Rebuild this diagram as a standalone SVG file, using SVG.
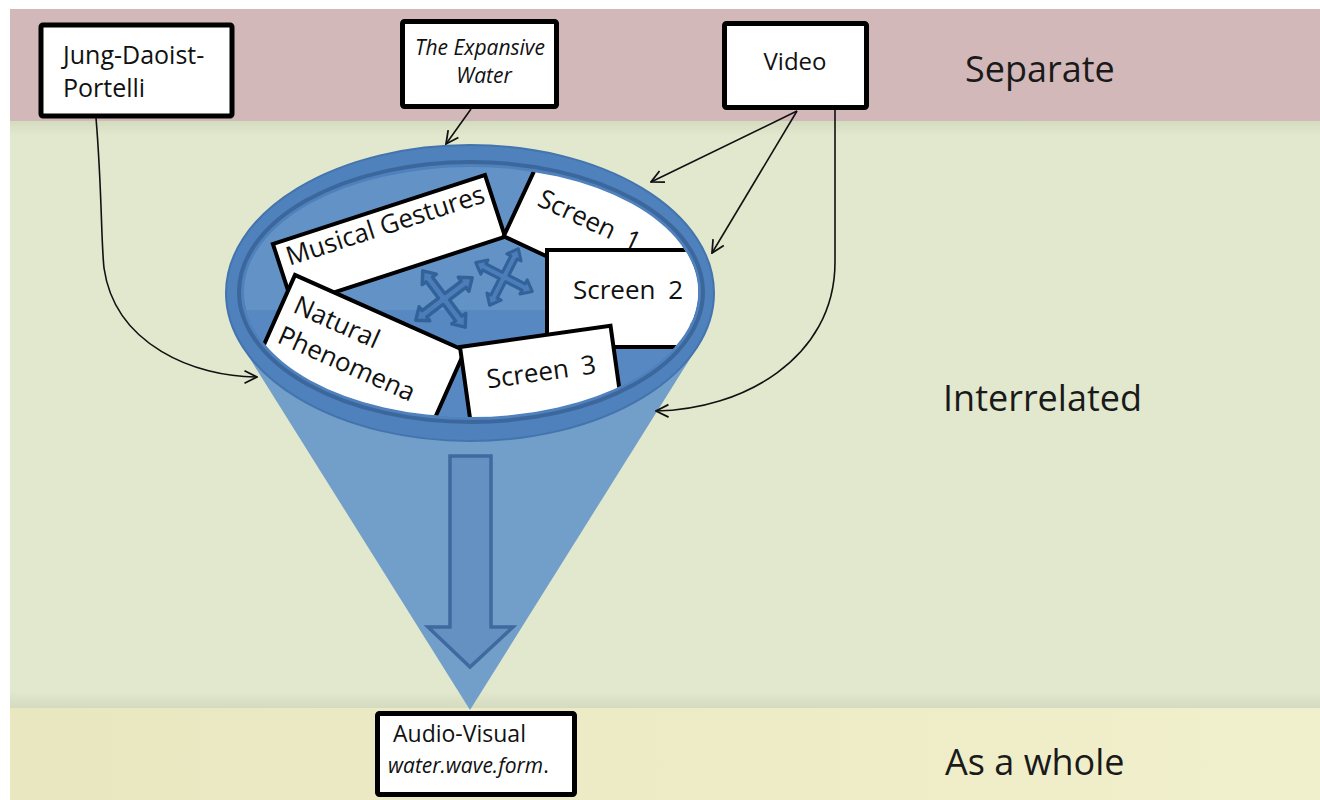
<svg xmlns="http://www.w3.org/2000/svg" width="1320" height="800" viewBox="0 0 1320 800">
  <style>
    .box { fill: #ffffff; stroke: #000000; stroke-width: 5; }
    .inbox { fill: #ffffff; stroke: #000000; stroke-width: 4; }
    .lbl { font-family: "Open Sans", "Liberation Sans", sans-serif; fill: #111111; }
    .it { font-style: italic; }
    .band { font-family: "Open Sans", "Liberation Sans", sans-serif; font-size: 36px; fill: #1a1a1a; }
    .conn { fill: none; stroke: #111111; stroke-width: 1.6; }
    .move { fill: #4b7db8; stroke: #33629a; stroke-width: 3.5; stroke-linejoin: round; }
  </style>
  <defs>
    <marker id="open" viewBox="0 0 12 12" refX="11" refY="6" markerWidth="15" markerHeight="15" markerUnits="userSpaceOnUse" orient="auto">
      <path d="M1,1 L11,6 L1,11" fill="none" stroke="#111111" stroke-width="1.4"/>
    </marker>
    <linearGradient id="greenBand" x1="0" y1="0" x2="0" y2="1">
      <stop offset="0" stop-color="#d4dcc0"/>
      <stop offset="0.025" stop-color="#e1e8cd"/>
      <stop offset="0.97" stop-color="#e1e8cd"/>
      <stop offset="1" stop-color="#d3dabf"/>
    </linearGradient>
    <linearGradient id="yellowBand" x1="0" y1="0" x2="1" y2="0">
      <stop offset="0" stop-color="#e9e7c0"/>
      <stop offset="1" stop-color="#f1f0cc"/>
    </linearGradient>
    <clipPath id="bowl">
      <ellipse cx="471" cy="292" rx="227" ry="125"/>
    </clipPath>
    <!-- four-way arrow glyph -->
    <path id="moveIcon" d="M4,-4 L25,-4 L25,-9 L36,0 L25,9 L25,4 L4,4 L4,25 L9,25 L0,36 L-9,25 L-4,25 L-4,4 L-25,4 L-25,9 L-36,0 L-25,-9 L-25,-4 L-4,-4 L-4,-25 L-9,-25 L0,-36 L9,-25 L4,-25 Z"/>
  </defs>

  <!-- background bands -->
  <rect x="0" y="0" width="1320" height="800" fill="#ffffff"/>
  <rect x="10" y="9" width="1310" height="113" fill="#d2b8b9"/>
  <rect x="10" y="121" width="1310" height="588" fill="url(#greenBand)"/>
  <rect x="10" y="708" width="1310" height="92" fill="url(#yellowBand)"/>

  <text class="band" x="965" y="82">Separate</text>
  <text class="band" x="943" y="411">Interrelated</text>
  <text class="band" x="945" y="775">As a whole</text>

  <!-- funnel -->
  <g id="funnel">
    <polygon points="242,346 698,346 470,710" fill="#729fca"/>
    <path d="M450,456 L491,456 L491,627 L513,627 L470,667 L428,627 L450,627 Z" fill="#6590c2" stroke="#3e6a9f" stroke-width="3.5" stroke-linejoin="miter"/>
    <ellipse cx="470" cy="293" rx="244" ry="148" fill="#4f81bd" stroke="#4474ad" stroke-width="2"/>
    <g clip-path="url(#bowl)">
      <rect x="230" y="160" width="480" height="270" fill="#6392c6"/>
      <rect x="230" y="310" width="480" height="120" fill="#5888c1"/>

      <g id="musical-gestures">
        <g transform="translate(485,175) rotate(-18)">
          <rect class="inbox" x="-223" y="0" width="223" height="65"/>
          <text class="lbl" x="-214" y="26" font-size="26">Musical Gestures</text>
        </g>
      </g>
      <g id="screen-1">
        <g transform="translate(543,152) rotate(25)">
          <rect class="inbox" x="0" y="0" width="260" height="93"/>
          <text class="lbl" x="16" y="51" font-size="26" word-spacing="6">Screen 1</text>
        </g>
      </g>
      <g id="screen-2">
        <rect class="inbox" x="547" y="250" width="220" height="97"/>
        <text class="lbl" x="573" y="299" font-size="26" word-spacing="6">Screen 2</text>
      </g>
      <g id="natural-phenomena">
        <g transform="translate(295,275) rotate(24)">
          <rect class="inbox" x="0" y="0" width="186" height="170"/>
          <text class="lbl" x="12" y="35" font-size="26">Natural</text>
          <text class="lbl" x="10" y="69" font-size="26">Phenomena</text>
        </g>
      </g>
      <g id="screen-3">
        <g transform="translate(460,347) rotate(-8)">
          <rect class="inbox" x="0" y="0" width="152" height="110"/>
          <text class="lbl" x="22" y="45" font-size="26" word-spacing="6">Screen 3</text>
        </g>
      </g>

      <use href="#moveIcon" class="move" transform="translate(444,299) rotate(-37) scale(0.98)"/>
      <use href="#moveIcon" class="move" transform="translate(504,277) rotate(27) scale(0.88)"/>
    </g>
    <ellipse cx="471" cy="292" rx="232" ry="130" fill="none" stroke="#3b679c" stroke-width="4"/>
  </g>

  <!-- nodes -->
  <g id="jung-daoist-portelli">
    <rect class="box" x="41" y="25" width="191" height="91" rx="2"/>
    <text class="lbl" x="63" y="64" font-size="25">Jung-Daoist-</text>
    <text class="lbl" x="63" y="97" font-size="25">Portelli</text>
  </g>
  <g id="expansive-water">
    <rect class="box" x="402.5" y="21.5" width="154" height="85" rx="2"/>
    <text class="lbl it" x="480" y="55" font-size="21" text-anchor="middle">The Expansive</text>
    <text class="lbl it" x="484" y="83" font-size="21" text-anchor="middle">Water</text>
  </g>
  <g id="video">
    <rect class="box" x="724.5" y="23.5" width="142" height="84" rx="2"/>
    <text class="lbl" x="795" y="70" font-size="24" text-anchor="middle">Video</text>
  </g>
  <g id="audio-visual">
    <rect class="box" x="377.5" y="713.5" width="197" height="81" rx="2"/>
    <text class="lbl" x="393" y="742" font-size="23">Audio-Visual</text>
    <text class="lbl" x="388" y="773" font-size="21"><tspan class="it">water.wave.form</tspan>.</text>
  </g>

  <!-- connectors -->
  <g id="connectors">
    <path class="conn" d="M96,118 C102,190 101,240 104,268 C115,345 195,377 257,377" marker-end="url(#open)"/>
    <path class="conn" d="M471,109 L446,144" marker-end="url(#open)"/>
    <path class="conn" d="M797,111 L651,182" marker-end="url(#open)"/>
    <path class="conn" d="M797,111 L712,253" marker-end="url(#open)"/>
    <path class="conn" d="M835,110 L835,262 C835,360 740,410 656,411" marker-end="url(#open)"/>
  </g>
</svg>
